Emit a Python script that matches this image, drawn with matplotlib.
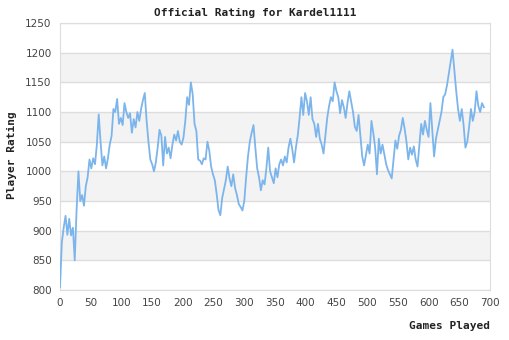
import matplotlib
matplotlib.use('Agg')
import matplotlib.pyplot as plt

# rating after every third game
ratings = [805, 880, 905, 925, 893, 920, 892, 905, 850, 935,
           1000, 950, 960, 942, 975, 990, 1020, 1005, 1022, 1012,
           1045, 1096, 1050, 1010, 1025, 1005, 1022, 1045, 1060, 1105,
           1100, 1122, 1080, 1090, 1078, 1115, 1100, 1090, 1098, 1065,
           1088, 1074, 1100, 1085, 1105, 1120, 1132, 1085, 1050, 1020,
           1012, 1000, 1015, 1040, 1070, 1060, 1010, 1058, 1030, 1040,
           1022, 1045, 1062, 1052, 1068, 1050, 1045, 1057, 1085, 1125,
           1112, 1150, 1130, 1080, 1068, 1020, 1018, 1012, 1022, 1020,
           1050, 1035, 1008, 995, 985, 962, 935, 926, 955, 970,
           985, 1008, 988, 975, 995, 972, 960, 945, 940, 934,
           950, 990, 1025, 1050, 1065, 1078, 1040, 1005, 990, 968,
           985, 978, 1005, 1040, 1000, 990, 980, 1005, 990, 1012,
           1020, 1010, 1025, 1015, 1040, 1055, 1038, 1015, 1040, 1060,
           1090, 1125, 1095, 1132, 1118, 1095, 1125, 1088, 1080, 1058,
           1080, 1055, 1045, 1030, 1060, 1090, 1110, 1125, 1118, 1150,
           1135, 1125, 1098, 1120, 1108, 1090, 1115, 1135, 1118, 1100,
           1075, 1068, 1095, 1060, 1025, 1010, 1028, 1045, 1030, 1085,
           1065, 1040, 995, 1055, 1030, 1045, 1028, 1012, 1002, 995,
           988, 1020, 1052, 1038, 1060, 1070, 1090, 1072, 1050, 1020,
           1040, 1028, 1042, 1020, 1008, 1045, 1080, 1062, 1085, 1070,
           1058, 1115, 1070, 1025, 1055, 1070, 1085, 1100, 1125, 1130,
           1145, 1165, 1185, 1205, 1170, 1135, 1105, 1085, 1105, 1078,
           1040, 1050, 1075, 1105, 1085, 1100, 1135, 1110, 1100, 1115,
           1108]
games = list(range(0, 3 * len(ratings), 3))

y_ticks = [800, 850, 900, 950, 1000, 1050, 1100, 1150, 1200, 1250]
x_ticks = [0, 50, 100, 150, 200, 250, 300, 350, 400, 450, 500, 550, 600, 650, 700]

fig = plt.figure(figsize=(5.1, 3.4), dpi=100)
ax = fig.add_axes([60 / 510, 1 - 290 / 340, 430 / 510, 267 / 340])

# alternating grey bands
for lo in [850, 950, 1050, 1150]:
    ax.axhspan(lo, lo + 50, color='#f3f3f3', zorder=0, lw=0)
for v in y_ticks:
    ax.axhline(v, color='#dddddd', lw=1, zorder=1)

ax.plot(games, ratings, color='#7cb5ec', lw=1.3, zorder=3)

ax.set_xlim(0, 700)
ax.set_ylim(800, 1250)
ax.set_xticks(x_ticks)
ax.set_yticks(y_ticks)
ax.tick_params(length=0, labelsize=7.5, labelcolor='#444444', pad=6)
for s in ax.spines.values():
    s.set_color('#dddddd')

fig.text(0.5, 1 - 13 / 340, 'Official Rating for Kardel1111', ha='center', va='center',
         family='DejaVu Sans Mono', weight='bold', fontsize=8, color='#222222')
fig.text(490 / 510, 1 - 326 / 340, 'Games Played', ha='right', va='center',
         family='DejaVu Sans Mono', weight='bold', fontsize=8, color='#222222')
fig.text(12 / 510, 1 - 155 / 340, 'Player Rating', ha='center', va='center', rotation=90,
         family='DejaVu Sans Mono', weight='bold', fontsize=8, color='#222222')

fig.savefig('out.png', dpi=100)
